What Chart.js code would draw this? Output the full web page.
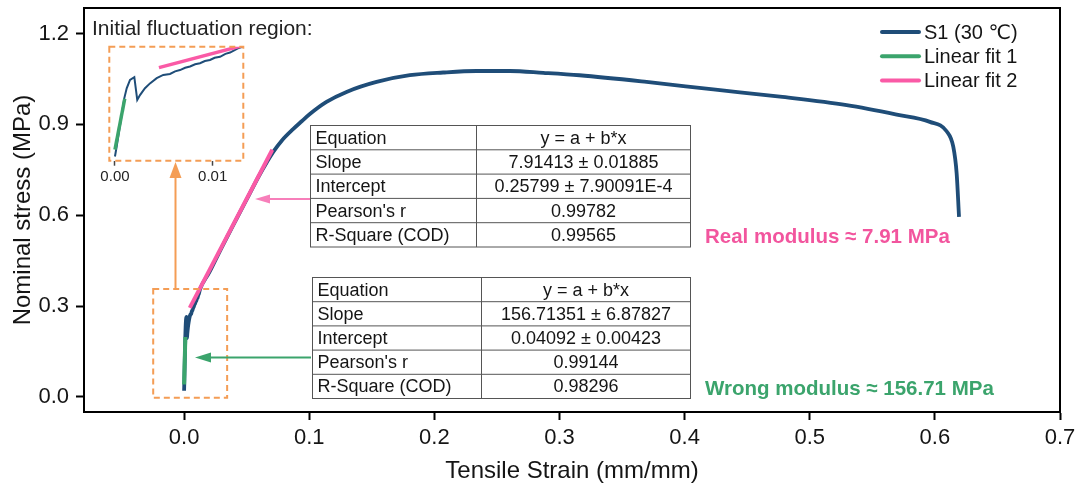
<!DOCTYPE html>
<html>
<head>
<meta charset="utf-8">
<script src="https://cdn.jsdelivr.net/npm/chart.js@4.4.1/dist/chart.umd.min.js"></script>
<style>
  html, body { margin: 0; padding: 0; background: #fff; }
  #wrap { position: relative; width: 1080px; height: 488px; }
  #main { position: absolute; left: 0; top: 0; }
  #inset { position: absolute; left: 80px; top: 40px; }
</style>
</head>
<body>
<div id="wrap">
  <canvas id="main" width="1080" height="488"></canvas>
  <canvas id="inset" width="180" height="150"></canvas>
</div>
<script>
// Tensile curve of specimen S1 (30 ℃): strain (mm/mm) and nominal stress (MPa)
const strain = [
  0, 0.00017, 0.00095, 0.0012, 0.00154, 0.00198, 0.00228, 0.00256, 0.00307, 0.00358,
  0.00427, 0.00494, 0.00563, 0.00615, 0.00665, 0.00718, 0.00768, 0.0082, 0.0087, 0.0092,
  0.00972, 0.0102, 0.01075, 0.0113, 0.01177, 0.01272, 0.02, 0.03, 0.04, 0.05,
  0.06, 0.066, 0.0711, 0.078, 0.0871, 0.094, 0.1005, 0.1138, 0.1298, 0.1538,
  0.1804, 0.207, 0.2337, 0.2604, 0.287, 0.316, 0.3696, 0.4229, 0.4762, 0.5295,
  0.5695, 0.596, 0.6094, 0.6147, 0.6174, 0.6193
];
const stress = [
  0.020, 0.050, 0.199, 0.230, 0.256, 0.264, 0.194, 0.209, 0.230, 0.245,
  0.261, 0.271, 0.274, 0.282, 0.286, 0.293, 0.297, 0.304, 0.307, 0.314,
  0.317, 0.324, 0.327, 0.336, 0.340, 0.355, 0.410, 0.493, 0.573, 0.652,
  0.731, 0.774, 0.808, 0.846, 0.884, 0.910, 0.934, 0.974, 1.007, 1.040,
  1.062, 1.071, 1.076, 1.076, 1.070, 1.062, 1.040, 1.015, 0.991, 0.963,
  0.932, 0.908, 0.877, 0.826, 0.738, 0.594
];

// Linear fits as [intercept a, slope b] and the strain span each line covers
const fit1Coef = [0.04092, 156.71351];
const fit1Span = [0, 0.001];
const fit2Coef = [0.25799, 7.91413];
const fit2Span = [0.0045, 0.0705];

const seriesLabels = ['S1 (30 ℃)', 'Linear fit 1', 'Linear fit 2'];
const xTicks = [0, 0.1, 0.2, 0.3, 0.4, 0.5, 0.6, 0.7];
const yTicks = [0, 0.3, 0.6, 0.9, 1.2];
const insetXTicks = [0, 0.01];

const fit2Table = [
  ['Equation', 'y = a + b*x'],
  ['Slope', '7.91413 ± 0.01885'],
  ['Intercept', '0.25799 ± 7.90091E-4'],
  ["Pearson's r", '0.99782'],
  ['R-Square (COD)', '0.99565']
];
const fit1Table = [
  ['Equation', 'y = a + b*x'],
  ['Slope', '156.71351 ± 6.87827'],
  ['Intercept', '0.04092 ± 0.00423'],
  ["Pearson's r", '0.99144'],
  ['R-Square (COD)', '0.98296']
];

const FONT = '"Liberation Sans", Arial, "DejaVu Sans", "Noto Sans CJK SC", sans-serif';
const BLUE = '#1f4d78';
const GREEN = '#3ba46c';
const PINK = '#fa5aa6';
const PINK_TEXT = '#f2559e';
const PINK_ARROW = '#f77fba';
const ORANGE = '#f49d55';
const INK = '#151515';

const curvePts = strain.map((x, i) => ({ x, y: stress[i] }));
const linePts = (c, span) => span.map(x => ({ x, y: c[0] + c[1] * x }));

function lineSet(label, data, color, width, order) {
  return { label, data, showLine: true, borderColor: color, backgroundColor: color,
           borderWidth: width, pointRadius: 0, order, borderCapStyle: 'butt' };
}

// keep tick labels from pushing the plot area inwards
function noOverflow(s) {
  s.paddingTop = 0; s.paddingBottom = 0; s.paddingLeft = 0; s.paddingRight = 0;
}

// Plot frame on all four sides
const framePlugin = {
  id: 'frame',
  afterDraw(chart) {
    const { ctx, chartArea: a } = chart;
    ctx.save();
    ctx.strokeStyle = '#000';
    ctx.lineWidth = 2;
    ctx.strokeRect(a.left, a.top, a.right - a.left, a.bottom - a.top);
    ctx.restore();
  }
};

// Series key in the upper right corner
const keyPlugin = {
  id: 'key',
  afterDraw(chart) {
    const { ctx } = chart;
    ctx.save();
    ctx.font = '20px ' + FONT;
    ctx.textBaseline = 'middle';
    ctx.fillStyle = INK;
    chart.data.datasets.forEach((ds, i) => {
      const y = 32 + i * 24.3;
      ctx.strokeStyle = ds.borderColor;
      ctx.lineWidth = 4;
      ctx.lineCap = 'round';
      ctx.beginPath();
      ctx.moveTo(882, y);
      ctx.lineTo(919, y);
      ctx.stroke();
      ctx.fillText(ds.label, 924, y + 1);
    });
    ctx.restore();
  }
};

function drawTable(ctx, rows, x0, xMid, x1, y0, rowH) {
  ctx.save();
  ctx.strokeStyle = '#555';
  ctx.lineWidth = 1;
  ctx.fillStyle = '#fff';
  ctx.fillRect(x0, y0, x1 - x0, rowH * rows.length);
  ctx.strokeRect(x0, y0, x1 - x0, rowH * rows.length);
  ctx.beginPath();
  for (let i = 1; i < rows.length; i++) {
    ctx.moveTo(x0, y0 + i * rowH);
    ctx.lineTo(x1, y0 + i * rowH);
  }
  ctx.moveTo(xMid, y0);
  ctx.lineTo(xMid, y0 + rowH * rows.length);
  ctx.stroke();
  ctx.fillStyle = INK;
  ctx.font = '18px ' + FONT;
  ctx.textBaseline = 'middle';
  rows.forEach((r, i) => {
    const y = y0 + i * rowH + rowH / 2 + 1;
    ctx.textAlign = 'left';
    ctx.fillText(r[0], x0 + 5, y);
    ctx.textAlign = 'center';
    ctx.fillText(r[1], (xMid + x1) / 2, y);
  });
  ctx.restore();
}

function drawArrow(ctx, x1, y1, x2, y2, color, width, headLen, headHalf) {
  const ang = Math.atan2(y2 - y1, x2 - x1);
  const bx = x2 - Math.cos(ang) * headLen, by = y2 - Math.sin(ang) * headLen;
  ctx.save();
  ctx.strokeStyle = color;
  ctx.fillStyle = color;
  ctx.lineWidth = width;
  ctx.beginPath();
  ctx.moveTo(x1, y1);
  ctx.lineTo(bx, by);
  ctx.stroke();
  ctx.beginPath();
  ctx.moveTo(x2, y2);
  ctx.lineTo(bx + Math.sin(ang) * headHalf, by - Math.cos(ang) * headHalf);
  ctx.lineTo(bx - Math.sin(ang) * headHalf, by + Math.cos(ang) * headHalf);
  ctx.closePath();
  ctx.fill();
  ctx.restore();
}

// Fit tables, pointers, zoom box and modulus notes
const notesPlugin = {
  id: 'notes',
  afterDraw(chart) {
    const { ctx, scales: { x, y } } = chart;
    // dashed box around the initial region
    const bx0 = x.getPixelForValue(-0.0247), bx1 = x.getPixelForValue(0.0344);
    const by0 = y.getPixelForValue(0.356), by1 = y.getPixelForValue(-0.003);
    ctx.save();
    ctx.strokeStyle = ORANGE;
    ctx.lineWidth = 2;
    ctx.setLineDash([6, 4]);
    ctx.strokeRect(bx0, by0, bx1 - bx0, by1 - by0);
    ctx.restore();
    drawArrow(ctx, 175.5, by0, 175.5, 162, ORANGE, 2, 16, 6);

    drawTable(ctx, fit2Table, 310.5, 476.5, 690.5, 125.5, 24.3);
    drawTable(ctx, fit1Table, 312.5, 481.5, 690.5, 277.5, 24.2);

    drawArrow(ctx, 310, 199, 255, 199, PINK_ARROW, 2, 15, 4.5);
    drawArrow(ctx, 311, 357.5, 195, 357.5, GREEN, 2, 16, 5);

    ctx.save();
    ctx.fillStyle = '#222';
    ctx.font = '21px ' + FONT;
    ctx.textBaseline = 'alphabetic';
    ctx.fillText('Initial fluctuation region:', 92, 35);
    ctx.font = 'bold 20.5px ' + FONT;
    ctx.fillStyle = PINK_TEXT;
    ctx.fillText('Real modulus ≈ 7.91 MPa', 705, 243);
    ctx.fillStyle = GREEN;
    ctx.fillText('Wrong modulus ≈ 156.71 MPa', 705, 395);
    ctx.restore();
  }
};

const axisTickFont = { family: FONT, size: 22 };
const axisTitleFont = { family: FONT, size: 24 };

new Chart(document.getElementById('main'), {
  type: 'scatter',
  data: {
    datasets: [
      Object.assign(lineSet(seriesLabels[0], curvePts, BLUE, 3.8, 2), { cubicInterpolationMode: 'monotone' }),
      lineSet(seriesLabels[1], linePts(fit1Coef, fit1Span), GREEN, 4, 1),
      lineSet(seriesLabels[2], linePts(fit2Coef, fit2Span), PINK, 4, 0)
    ]
  },
  options: {
    responsive: false,
    animation: false,
    devicePixelRatio: 1,
    layout: { padding: { left: 0, top: 8, right: 20, bottom: 0 } },
    plugins: { legend: { display: false }, tooltip: { enabled: false } },
    scales: {
      x: {
        type: 'linear', min: -0.08, max: 0.7,
        afterBuildTicks: s => { s.ticks = xTicks.map(v => ({ value: v })); },
        afterFit: s => { s.height = 76; noOverflow(s); },
        ticks: { callback: v => Number(v).toFixed(1), font: axisTickFont, color: INK, padding: 5, maxRotation: 0, autoSkip: false },
        grid: { drawOnChartArea: false, drawTicks: true, tickLength: 8, tickWidth: 2, tickColor: '#000' },
        border: { display: true, color: '#000', width: 2 },
        title: { display: true, text: 'Tensile Strain (mm/mm)', font: axisTitleFont, color: INK, padding: { top: 0, bottom: 2 } }
      },
      y: {
        type: 'linear', min: -0.05, max: 1.284,
        afterBuildTicks: s => { s.ticks = yTicks.map(v => ({ value: v })); },
        afterFit: s => { s.width = 84; noOverflow(s); },
        ticks: { callback: v => Number(v).toFixed(1), font: axisTickFont, color: INK, padding: 7, autoSkip: false },
        grid: { drawOnChartArea: false, drawTicks: true, tickLength: 8, tickWidth: 2, tickColor: '#000' },
        border: { display: true, color: '#000', width: 2 },
        title: { display: true, text: 'Nominal stress (MPa)', font: axisTitleFont, color: INK, padding: { top: 9, bottom: 0 } }
      }
    }
  },
  plugins: [notesPlugin, framePlugin, keyPlugin]
});

// Dashed outline of the magnified view
const insetFramePlugin = {
  id: 'insetFrame',
  afterDraw(chart) {
    const { ctx, chartArea: a } = chart;
    ctx.save();
    ctx.strokeStyle = ORANGE;
    ctx.lineWidth = 2;
    ctx.setLineDash([6, 4]);
    ctx.strokeRect(a.left, a.top, a.right - a.left, a.bottom - a.top);
    ctx.restore();
  }
};

new Chart(document.getElementById('inset'), {
  type: 'scatter',
  data: {
    datasets: [
      lineSet(seriesLabels[0], curvePts, BLUE, 2, 2),
      lineSet(seriesLabels[1], linePts(fit1Coef, fit1Span), GREEN, 3.5, 1),
      lineSet(seriesLabels[2], linePts(fit2Coef, fit2Span), PINK, 3.5, 0)
    ]
  },
  options: {
    responsive: false,
    animation: false,
    devicePixelRatio: 1,
    layout: { padding: { left: 29.3, top: 6.7, right: 16.7, bottom: 0 } },
    plugins: { legend: { display: false }, tooltip: { enabled: false } },
    scales: {
      x: {
        type: 'linear', min: -0.00058, max: 0.01313,
        afterBuildTicks: s => { s.ticks = insetXTicks.map(v => ({ value: v })); },
        afterFit: s => { s.height = 29.3; noOverflow(s); },
        ticks: { callback: v => Number(v).toFixed(2), font: { family: FONT, size: 15 }, color: '#222', padding: 2, maxRotation: 0, autoSkip: false },
        grid: { drawOnChartArea: false, drawTicks: true, tickLength: 5, tickWidth: 1.5, tickColor: '#444' },
        border: { display: false }
      },
      y: { type: 'linear', min: 0.007, max: 0.358, display: false }
    }
  },
  plugins: [insetFramePlugin]
});
</script>
</body>
</html>
